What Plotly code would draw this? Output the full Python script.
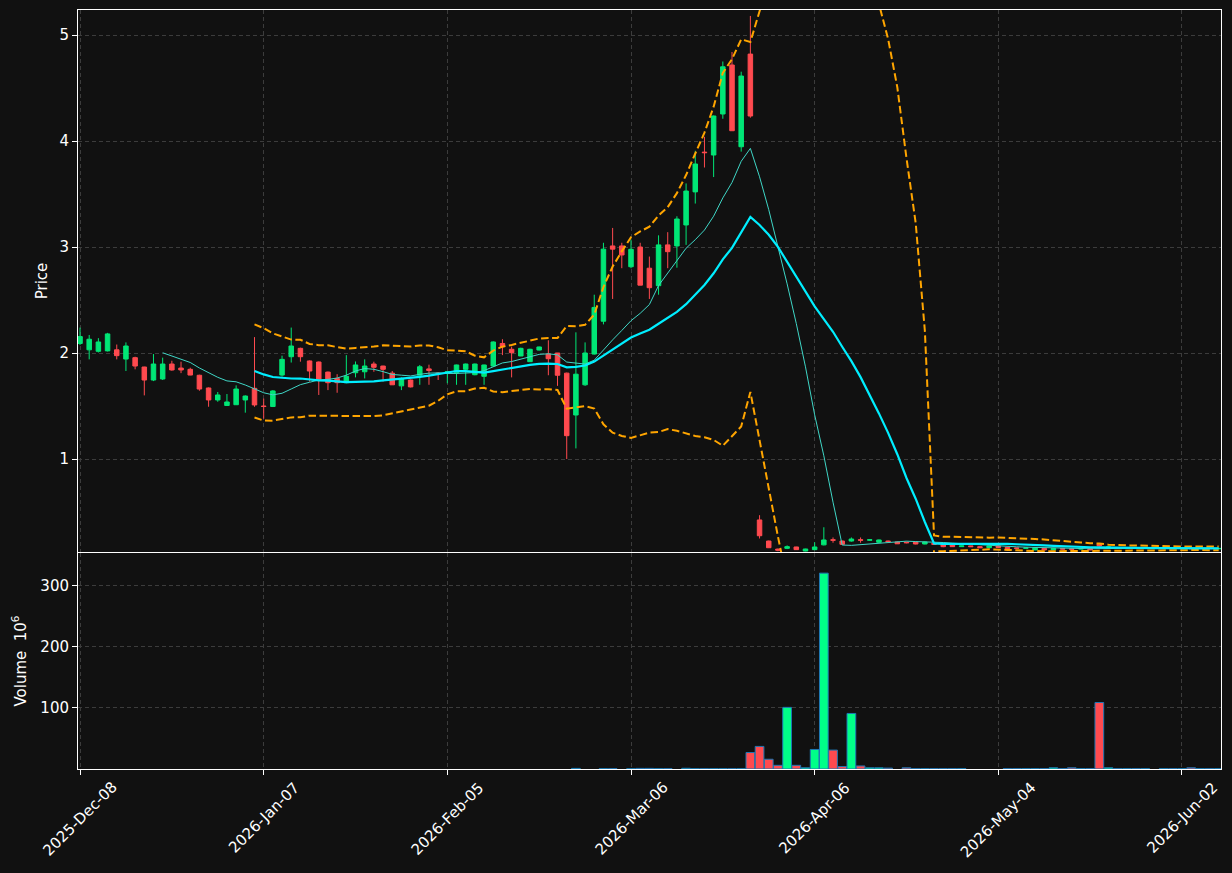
import pandas as pd
import plotly.graph_objects as go

# ---------------- data ----------------
tick_index = [0, 20, 40, 60, 80, 100, 120]
tick_labels = ["2025-Dec-08", "2026-Jan-07", "2026-Feb-05", "2026-Mar-06",
               "2026-Apr-06", "2026-May-04", "2026-Jun-02"]

open_ = [2.09, 2.03, 2.016, 2.02, 2.03, 1.943, 1.956, 1.868, 1.745, 1.755,
         1.896, 1.858, 1.846, 1.79, 1.67, 1.557, 1.505, 1.512, 1.557, 1.667,
         1.50, 1.495, 1.792, 1.965, 2.044, 1.925, 1.915, 1.82, 1.76, 1.72,
         1.814, 1.823, 1.896, 1.877, 1.81, 1.69, 1.745, 1.79, 1.85, 1.81,
         1.815, 1.814, 1.846, 1.795, 1.78, 1.877, 2.09, 2.035, 1.972, 1.918,
         2.028, 1.99, 2.0, 1.81, 1.415, 1.70, 1.99, 2.30, 3.01, 3.01,
         2.814, 3.0, 2.80, 2.635, 3.02, 3.01, 3.208, 3.52, 3.895, 3.868,
         4.255, 4.717, 3.946, 4.82, 0.425, 0.226, 0.15, 0.157, 0.17, 0.132,
         0.145, 0.19, 0.238, 0.226, 0.226, 0.238, 0.234, 0.214, 0.226, 0.217,
         0.215, 0.217, 0.198, 0.204, 0.195, 0.189, 0.173, 0.18, 0.173, 0.163,
         0.18, 0.167, 0.16, 0.158, 0.142, 0.157, 0.142, 0.155, 0.152, 0.15,
         0.157, 0.195, 0.16, 0.165, 0.158, 0.162, 0.157, 0.16, 0.156, 0.159,
         0.155, 0.158, 0.154, 0.157, 0.153]
high = [2.24, 2.17, 2.14, 2.19, 2.08, 2.10, 1.965, 1.87, 1.99, 1.956,
        1.927, 1.918, 1.861, 1.795, 1.675, 1.632, 1.613, 1.695, 1.60, 2.15,
        1.57, 1.65, 1.975, 2.24, 2.05, 1.93, 1.92, 1.825, 1.80, 1.98,
        1.92, 1.94, 1.918, 1.88, 1.83, 1.77, 1.75, 1.887, 1.89, 1.82,
        1.825, 1.89, 1.90, 1.90, 1.89, 2.11, 2.13, 2.06, 2.05, 2.04,
        2.06, 2.12, 2.0, 1.815, 2.195, 2.10, 2.55, 3.04, 3.18, 3.04,
        3.07, 3.04, 2.91, 3.11, 3.14, 3.29, 3.60, 3.908, 4.04, 4.24,
        4.75, 4.84, 4.654, 5.18, 0.47, 0.23, 0.155, 0.185, 0.172, 0.153,
        0.215, 0.356, 0.26, 0.23, 0.26, 0.26, 0.245, 0.24, 0.23, 0.22,
        0.22, 0.22, 0.22, 0.206, 0.20, 0.19, 0.182, 0.182, 0.175, 0.182,
        0.182, 0.17, 0.162, 0.162, 0.165, 0.16, 0.16, 0.157, 0.155, 0.157,
        0.16, 0.20, 0.172, 0.167, 0.165, 0.164, 0.162, 0.162, 0.161, 0.16,
        0.16, 0.16, 0.159, 0.158, 0.158]
low = [2.075, 1.94, 2.005, 2.015, 1.94, 1.83, 1.846, 1.60, 1.735, 1.745,
       1.833, 1.81, 1.79, 1.644, 1.493, 1.54, 1.503, 1.51, 1.437, 1.493,
       1.38, 1.49, 1.777, 1.91, 1.918, 1.73, 1.604, 1.65, 1.625, 1.715,
       1.77, 1.76, 1.823, 1.73, 1.70, 1.65, 1.675, 1.70, 1.70, 1.745,
       1.714, 1.70, 1.70, 1.79, 1.70, 1.87, 1.98, 1.77, 1.97, 1.915,
       2.025, 1.79, 1.69, 1.0, 1.10, 1.69, 1.985, 2.27, 2.51, 2.80,
       2.80, 2.64, 2.51, 2.55, 2.80, 2.805, 3.02, 3.41, 3.75, 3.66,
       4.21, 4.097, 3.90, 4.22, 0.25, 0.16, 0.13, 0.15, 0.143, 0.13,
       0.14, 0.185, 0.21, 0.19, 0.22, 0.21, 0.228, 0.21, 0.215, 0.198,
       0.205, 0.195, 0.195, 0.19, 0.168, 0.17, 0.17, 0.17, 0.16, 0.16,
       0.163, 0.155, 0.155, 0.155, 0.14, 0.14, 0.14, 0.148, 0.146, 0.148,
       0.14, 0.175, 0.158, 0.158, 0.156, 0.155, 0.155, 0.154, 0.154, 0.153,
       0.153, 0.152, 0.152, 0.152, 0.151]
close = [2.155, 2.13, 2.104, 2.18, 1.975, 2.066, 1.877, 1.745, 1.896, 1.896,
         1.84, 1.84, 1.792, 1.66, 1.557, 1.604, 1.538, 1.66, 1.594, 1.51,
         1.495, 1.642, 1.94, 2.066, 1.965, 1.83, 1.752, 1.72, 1.72, 1.78,
         1.887, 1.877, 1.865, 1.846, 1.70, 1.76, 1.68, 1.87, 1.835, 1.805,
         1.823, 1.887, 1.896, 1.896, 1.887, 2.104, 2.06, 2.003, 2.044, 2.035,
         2.057, 1.946, 1.79, 1.22, 1.80, 2.0, 2.43, 2.98, 2.98, 2.925,
         2.978, 2.64, 2.616, 3.02, 2.956, 3.264, 3.528, 3.783, 3.89, 4.236,
         4.70, 4.097, 4.613, 4.236, 0.276, 0.163, 0.14, 0.173, 0.145, 0.151,
         0.17, 0.236, 0.234, 0.195, 0.245, 0.234, 0.238, 0.236, 0.22, 0.20,
         0.21, 0.198, 0.217, 0.195, 0.173, 0.173, 0.18, 0.173, 0.163, 0.18,
         0.165, 0.157, 0.158, 0.16, 0.163, 0.142, 0.157, 0.15, 0.148, 0.155,
         0.142, 0.18, 0.17, 0.16, 0.162, 0.158, 0.16, 0.157, 0.159, 0.156,
         0.158, 0.154, 0.157, 0.155, 0.156]
# volume in millions of shares
volume = [0, 0, 0, 0, 0, 0, 0, 0, 0, 0,
          0, 0, 0, 0, 0, 0, 0, 0, 0, 0,
          0, 0, 0, 0, 0, 0, 0, 0, 0, 0,
          0, 0, 0, 0, 0, 0, 0, 0, 0, 0,
          0, 0, 0, 0, 0, 0, 0, 0, 0, 0,
          0, 0, 0, 0, 1.0, 0, 0, 0.5, 0.5, 0,
          0.4, 1.0, 1.0, 0.5, 0.5, 0, 1.2, 0.4, 0.4, 0.4,
          0.4, 0.4, 0.4, 27, 37, 16, 6, 101, 6, 2,
          32, 321, 31, 4, 91, 5, 2, 2, 1.5, 0,
          2, 0.5, 0.5, 0.5, 0.5, 0.5, 0.5, 0, 0, 0,
          0, 0.5, 0.5, 0.5, 0.5, 0.5, 2, 0.5, 2, 0.5,
          0.5, 109, 2, 0.5, 0.5, 0.5, 0.5, 0, 0.5, 0.5,
          0.5, 2, 0.5, 0.5, 0.5]

# ---------------- styling ----------------
BG = "#111111"
UP = "#00E676"
DOWN = "#FF4A4F"
VOL_UP = "#00FF88"
VOL_DOWN = "#FF4A4F"
GRID = "#3c3c3c"
FONT = dict(family="DejaVu Sans", size=15, color="white")

x = list(range(len(close)))
s = pd.Series(close)
ma10 = s.rolling(10).mean()
ma20 = s.rolling(20).mean()
sd20 = s.rolling(20).std()
bb_up = ma20 + 2 * sd20
bb_lo = ma20 - 2 * sd20


def clean(series):
    return [None if pd.isna(v) else float(v) for v in series]


vol_colors = [VOL_UP if c >= o else VOL_DOWN for o, c in zip(open_, close)]
vol_edge_w = [1 if v > 0 else 0 for v in volume]

fig = go.Figure()

fig.add_trace(go.Bar(
    x=x, y=volume, xaxis="x", yaxis="y",
    marker=dict(color=vol_colors, line=dict(color="#1f77b4", width=vol_edge_w)),
    width=0.95, showlegend=False))

fig.add_trace(go.Candlestick(
    x=x, open=open_, high=high, low=low, close=close,
    xaxis="x2", yaxis="y2", whiskerwidth=0,
    increasing=dict(line=dict(color=UP, width=1), fillcolor=UP),
    decreasing=dict(line=dict(color=DOWN, width=1), fillcolor=DOWN),
    showlegend=False))

BB_LINE = dict(color="#FFA500", width=2, dash="7.5px,3.5px")
fig.add_trace(go.Scatter(x=x, y=clean(bb_up), mode="lines", xaxis="x2", yaxis="y2",
                         line=BB_LINE, showlegend=False))
fig.add_trace(go.Scatter(x=x, y=clean(bb_lo), mode="lines", xaxis="x2", yaxis="y2",
                         line=BB_LINE, showlegend=False))
fig.add_trace(go.Scatter(x=x, y=clean(ma10), mode="lines", xaxis="x2", yaxis="y2",
                         line=dict(color="#3FD6C6", width=1), showlegend=False))
fig.add_trace(go.Scatter(x=x, y=clean(ma20), mode="lines", xaxis="x2", yaxis="y2",
                         line=dict(color="#00EEFF", width=2.2), showlegend=False))

xrange_ = [-0.22, 124.25]
common_x = dict(range=xrange_, tickmode="array", tickvals=tick_index,
                showgrid=True, gridcolor=GRID, griddash="4px,3px", gridwidth=1,
                showline=True, linecolor="white", linewidth=1, mirror=True,
                zeroline=False, showticklabels=False)

annotations = []
for idx, lab in zip(tick_index, tick_labels):
    annotations.append(dict(
        x=idx, xref="x", y=0, yref="paper", text=lab, showarrow=False,
        textangle=-45, xanchor="center", yanchor="top", yshift=-7,
        font=FONT))

fig.update_layout(
    width=1232, height=873,
    margin=dict(l=78, r=11, t=10, b=104),
    paper_bgcolor=BG, plot_bgcolor=BG,
    font=FONT,
    boxgap=0.3,
    xaxis=dict(**common_x, anchor="y", domain=[0, 1], ticks="outside",
               ticklen=5, tickcolor="white"),
    xaxis2=dict(**common_x, anchor="y2", domain=[0, 1], matches="x",
                ticks="", rangeslider=dict(visible=False)),
    yaxis=dict(domain=[0, 0.2846], range=[0, 354], tickvals=[100, 200, 300],
               showgrid=True, gridcolor=GRID, griddash="4px,3px",
               showline=True, linecolor="white", mirror=True, zeroline=False,
               ticks="outside", ticklen=5, tickcolor="white",
               title=dict(text="Volume  10<sup>6</sup>", font=FONT, standoff=10)),
    yaxis2=dict(domain=[0.2859, 1], range=[0.1226, 5.236], tickvals=[1, 2, 3, 4, 5],
                showgrid=True, gridcolor=GRID, griddash="4px,3px",
                showline=True, linecolor="white", mirror=True, zeroline=False,
                ticks="outside", ticklen=5, tickcolor="white",
                title=dict(text="Price", font=FONT, standoff=8)),
    annotations=annotations,
    bargap=0.05,
)

fig.write_html("out.html")
